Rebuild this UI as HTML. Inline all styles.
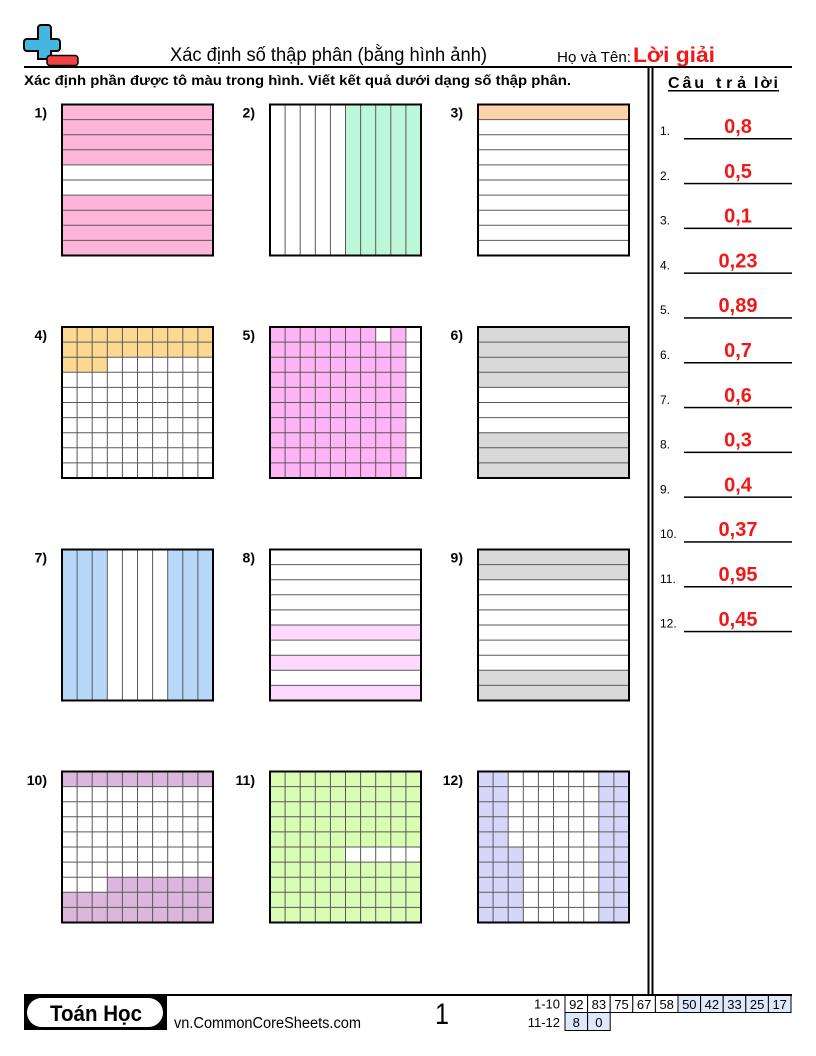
<!DOCTYPE html>
<html>
<head>
<meta charset="utf-8">
<style>
html,body{margin:0;padding:0;background:#fff;}
svg{display:block;}
text{font-family:"Liberation Sans","DejaVu Sans",sans-serif;}
</style>
</head>
<body>
<svg width="816" height="1056" viewBox="0 0 816 1056" xmlns="http://www.w3.org/2000/svg">
<defs>
  <path id="v" d="M15.1 0V151M30.2 0V151M45.3 0V151M60.4 0V151M75.5 0V151M90.6 0V151M105.7 0V151M120.8 0V151M135.9 0V151" stroke="#5a5a5a" stroke-width="1" fill="none"/>
  <path id="h" d="M0 15.1H151M0 30.2H151M0 45.3H151M0 60.4H151M0 75.5H151M0 90.6H151M0 105.7H151M0 120.8H151M0 135.9H151" stroke="#5a5a5a" stroke-width="1" fill="none"/>
  <rect id="b" x="0" y="0" width="151" height="151" fill="none" stroke="#000" stroke-width="2"/>
</defs>

<!-- Logo -->
<path d="M41 25h7a3 3 0 0 1 3 3v11h6a3 3 0 0 1 3 3v6a3 3 0 0 1 -3 3h-6v8h-13v-8h-11a3 3 0 0 1 -3 -3v-6a3 3 0 0 1 3 -3h11v-11a3 3 0 0 1 3 -3z" fill="#45b6e0" stroke="#000" stroke-width="2"/>
<rect x="47" y="55.5" width="31" height="10" rx="3" fill="#ee4444" stroke="#000" stroke-width="1.5"/>

<!-- Header -->
<text x="170" y="61" font-size="19" textLength="317" lengthAdjust="spacingAndGlyphs">Xác định số thập phân (bằng hình ảnh)</text>
<text x="557" y="62" font-size="14.5" textLength="74" lengthAdjust="spacingAndGlyphs">Họ và Tên:</text>
<text x="633" y="62" font-size="21" font-weight="bold" fill="#f01818" textLength="82" lengthAdjust="spacingAndGlyphs">Lời giải</text>
<rect x="24" y="66" width="768" height="2" fill="#000"/>

<text x="24" y="85" font-size="14" font-weight="bold" textLength="547" lengthAdjust="spacingAndGlyphs">Xác định phần được tô màu trong hình. Viết kết quả dưới dạng số thập phân.</text>

<!-- Vertical double line -->
<rect x="647.5" y="67" width="2" height="928" fill="#000"/>
<rect x="651.5" y="67" width="2" height="928" fill="#000"/>

<!-- Answer column -->
<g font-size="16" font-weight="bold">
<text x="668" y="88" textLength="36" lengthAdjust="spacing">Câu</text>
<text x="716" y="88" textLength="30" lengthAdjust="spacing">trả</text>
<text x="754" y="88" textLength="24" lengthAdjust="spacing">lời</text>
</g>
<rect x="668" y="90" width="111" height="1.5" fill="#000"/>

<g font-size="12">
<text x="660" y="135">1.</text>
<text x="660" y="180">2.</text>
<text x="660" y="224.5">3.</text>
<text x="660" y="269.5">4.</text>
<text x="660" y="314">5.</text>
<text x="660" y="359">6.</text>
<text x="660" y="404">7.</text>
<text x="660" y="448.5">8.</text>
<text x="660" y="493.5">9.</text>
<text x="660" y="538">10.</text>
<text x="660" y="583">11.</text>
<text x="660" y="627.5">12.</text>
</g>
<g fill="#000">
<rect x="684" y="138" width="108" height="1.5"/>
<rect x="684" y="182.8" width="108" height="1.5"/>
<rect x="684" y="227.6" width="108" height="1.5"/>
<rect x="684" y="272.4" width="108" height="1.5"/>
<rect x="684" y="317.2" width="108" height="1.5"/>
<rect x="684" y="362" width="108" height="1.5"/>
<rect x="684" y="406.8" width="108" height="1.5"/>
<rect x="684" y="451.6" width="108" height="1.5"/>
<rect x="684" y="496.4" width="108" height="1.5"/>
<rect x="684" y="541.2" width="108" height="1.5"/>
<rect x="684" y="586" width="108" height="1.5"/>
<rect x="684" y="630.8" width="108" height="1.5"/>
</g>
<g font-size="20" font-weight="bold" fill="#f01818" text-anchor="middle">
<text x="738" y="133">0,8</text>
<text x="738" y="177.8">0,5</text>
<text x="738" y="222.6">0,1</text>
<text x="738" y="267.4">0,23</text>
<text x="738" y="312.2">0,89</text>
<text x="738" y="357">0,7</text>
<text x="738" y="401.8">0,6</text>
<text x="738" y="446.6">0,3</text>
<text x="738" y="491.4">0,4</text>
<text x="738" y="536.2">0,37</text>
<text x="738" y="581">0,95</text>
<text x="738" y="625.8">0,45</text>
</g>

<!-- Problem labels -->
<g font-size="14" font-weight="bold" text-anchor="end">
<text x="47" y="117.5">1)</text>
<text x="255" y="117.5">2)</text>
<text x="463" y="117.5">3)</text>
<text x="47" y="340">4)</text>
<text x="255" y="340">5)</text>
<text x="463" y="340">6)</text>
<text x="47" y="562.5">7)</text>
<text x="255" y="562.5">8)</text>
<text x="463" y="562.5">9)</text>
<text x="47" y="785">10)</text>
<text x="255" y="785">11)</text>
<text x="463" y="785">12)</text>
</g>

<!-- Grid 1 -->
<g transform="translate(62,104.5)">
<rect x="0" y="0" width="151" height="60.4" fill="#ffb4d9"/>
<rect x="0" y="90.6" width="151" height="60.4" fill="#ffb4d9"/>
<use href="#h"/><use href="#b"/>
</g>
<!-- Grid 2 -->
<g transform="translate(270,104.5)">
<rect x="75.5" y="0" width="75.5" height="151" fill="#bbf7d8"/>
<use href="#v"/><use href="#b"/>
</g>
<!-- Grid 3 -->
<g transform="translate(478,104.5)">
<rect x="0" y="0" width="151" height="15.1" fill="#ffd2aa"/>
<use href="#h"/><use href="#b"/>
</g>

<!-- Grid 4 -->
<g transform="translate(62,327)">
<rect x="0" y="0" width="151" height="30.2" fill="#fdd890"/>
<rect x="0" y="30.2" width="45.3" height="15.1" fill="#fdd890"/>
<use href="#v"/><use href="#h"/><use href="#b"/>
</g>
<!-- Grid 5 -->
<g transform="translate(270,327)">
<rect x="0" y="0" width="135.9" height="151" fill="#ffb4f6"/>
<rect x="105.7" y="0" width="15.1" height="15.1" fill="#fff"/>
<use href="#v"/><use href="#h"/><use href="#b"/>
</g>
<!-- Grid 6 -->
<g transform="translate(478,327)">
<rect x="0" y="0" width="151" height="60.4" fill="#d9d9d9"/>
<rect x="0" y="105.7" width="151" height="45.3" fill="#d9d9d9"/>
<use href="#h"/><use href="#b"/>
</g>

<!-- Grid 7 -->
<g transform="translate(62,549.5)">
<rect x="0" y="0" width="45.3" height="151" fill="#b8d8fa"/>
<rect x="105.7" y="0" width="45.3" height="151" fill="#b8d8fa"/>
<use href="#v"/><use href="#b"/>
</g>
<!-- Grid 8 -->
<g transform="translate(270,549.5)">
<rect x="0" y="75.5" width="151" height="15.1" fill="#ffd8ff"/>
<rect x="0" y="105.7" width="151" height="15.1" fill="#ffd8ff"/>
<rect x="0" y="135.9" width="151" height="15.1" fill="#ffd8ff"/>
<use href="#h"/><use href="#b"/>
</g>
<!-- Grid 9 -->
<g transform="translate(478,549.5)">
<rect x="0" y="0" width="151" height="30.2" fill="#d9d9d9"/>
<rect x="0" y="120.8" width="151" height="30.2" fill="#d9d9d9"/>
<use href="#h"/><use href="#b"/>
</g>

<!-- Grid 10 -->
<g transform="translate(62,771.5)">
<rect x="0" y="0" width="151" height="15.1" fill="#dcb6dc"/>
<rect x="45.3" y="105.7" width="105.7" height="15.1" fill="#dcb6dc"/>
<rect x="0" y="120.8" width="151" height="30.2" fill="#dcb6dc"/>
<use href="#v"/><use href="#h"/><use href="#b"/>
</g>
<!-- Grid 11 -->
<g transform="translate(270,771.5)">
<rect x="0" y="0" width="151" height="151" fill="#dafdb4"/>
<rect x="75.5" y="75.5" width="75.5" height="15.1" fill="#fff"/>
<use href="#v"/><use href="#h"/><use href="#b"/>
</g>
<!-- Grid 12 -->
<g transform="translate(478,771.5)">
<rect x="0" y="0" width="30.2" height="151" fill="#d6d6fa"/>
<rect x="30.2" y="75.5" width="15.1" height="75.5" fill="#d6d6fa"/>
<rect x="120.8" y="0" width="30.2" height="151" fill="#d6d6fa"/>
<use href="#v"/><use href="#h"/><use href="#b"/>
</g>

<!-- Footer -->
<rect x="24" y="994" width="768" height="2" fill="#000"/>
<rect x="24" y="995" width="143" height="35" fill="#000"/>
<rect x="27" y="998" width="136" height="29" rx="14.5" fill="#fff"/>
<text x="50" y="1021" font-size="22" font-weight="bold" textLength="92" lengthAdjust="spacingAndGlyphs">Toán Học</text>
<text x="174" y="1028" font-size="15.5" textLength="187" lengthAdjust="spacingAndGlyphs">vn.CommonCoreSheets.com</text>
<text x="442" y="1024" font-size="30" text-anchor="middle" textLength="14" lengthAdjust="spacingAndGlyphs">1</text>

<text x="560" y="1008.5" font-size="13" text-anchor="end">1-10</text>
<text x="560" y="1027" font-size="13" text-anchor="end">11-12</text>
<g stroke="#000" stroke-width="1">
<rect x="565" y="995.5" width="22.6" height="17" fill="#fff"/>
<rect x="587.6" y="995.5" width="22.6" height="17" fill="#fff"/>
<rect x="610.2" y="995.5" width="22.6" height="17" fill="#fff"/>
<rect x="632.8" y="995.5" width="22.6" height="17" fill="#fff"/>
<rect x="655.4" y="995.5" width="22.6" height="17" fill="#fff"/>
<rect x="678" y="995.5" width="22.6" height="17" fill="#dde8fa"/>
<rect x="700.6" y="995.5" width="22.6" height="17" fill="#dde8fa"/>
<rect x="723.2" y="995.5" width="22.6" height="17" fill="#dde8fa"/>
<rect x="745.8" y="995.5" width="22.6" height="17" fill="#dde8fa"/>
<rect x="768.4" y="995.5" width="22.6" height="17" fill="#dde8fa"/>
<rect x="565" y="1012.5" width="22.6" height="18" fill="#dde8fa"/>
<rect x="587.6" y="1012.5" width="22.6" height="18" fill="#dde8fa"/>
</g>
<g font-size="13" text-anchor="middle">
<text x="576.3" y="1009">92</text>
<text x="598.9" y="1009">83</text>
<text x="621.5" y="1009">75</text>
<text x="644.1" y="1009">67</text>
<text x="666.7" y="1009">58</text>
<text x="689.3" y="1009">50</text>
<text x="711.9" y="1009">42</text>
<text x="734.5" y="1009">33</text>
<text x="757.1" y="1009">25</text>
<text x="779.7" y="1009">17</text>
<text x="576.3" y="1027">8</text>
<text x="598.9" y="1027">0</text>
</g>
</svg>
</body>
</html>
